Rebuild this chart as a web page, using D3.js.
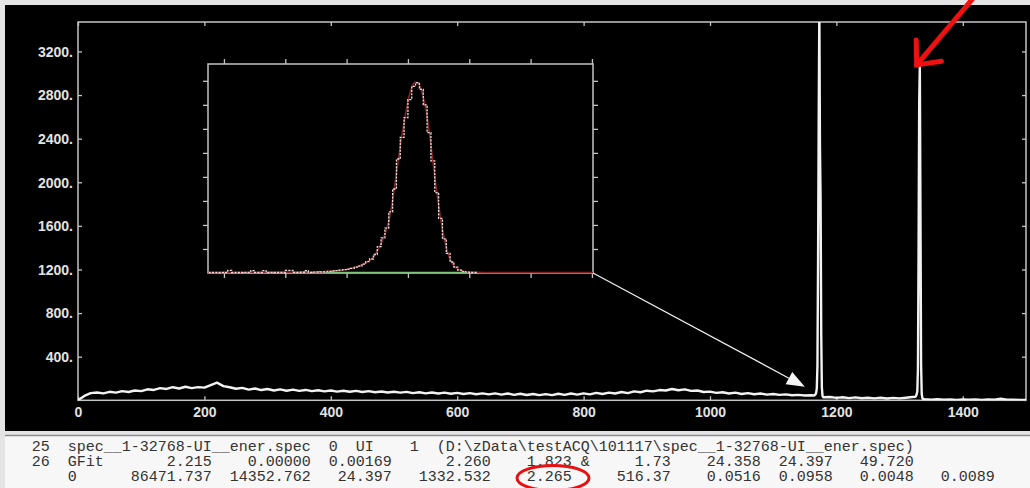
<!DOCTYPE html>
<html>
<head>
<meta charset="utf-8">
<script src="https://cdn.jsdelivr.net/npm/d3@7"></script>
<style>
  html, body { margin: 0; padding: 0; background: #e4e4e4; }
  svg { display: block; }
  .info { font-family: "Liberation Mono", monospace; font-size: 15px; fill: #333; white-space: pre; }
  .lbl { font-family: "Liberation Sans", Arial, sans-serif; font-weight: bold; font-size: 14px; fill: #e2e2e2; }
</style>
</head>
<body>
<svg id="chart" width="1030" height="488"></svg>
<script>
// ---- data ----
const xTickValues = [0, 200, 400, 600, 800, 1000, 1200, 1400];
const yTickValues = [400, 800, 1200, 1600, 2000, 2400, 2800, 3200];

// continuum, every 10 channels from 0 to 1160
const lowChannels = d3.range(0, 1170, 10);
const lowCounts = [
  0, 40, 66, 72, 63, 78, 70, 84, 76, 90,
  84, 101, 95, 112, 104, 120, 108, 124, 112, 121,
  116, 140, 162, 130, 120, 106, 114, 98, 108, 94,
  104, 90, 100, 88, 98, 86, 95, 84, 92, 82,
  90, 80, 88, 78, 86, 76, 84, 74, 81, 72,
  78, 70, 77, 66, 74, 64, 72, 62, 70, 60,
  68, 58, 66, 56, 64, 54, 63, 52, 62, 50,
  60, 49, 58, 48, 57, 47, 60, 50, 62, 52,
  64, 54, 68, 58, 70, 62, 76, 66, 82, 74,
  88, 82, 94, 90, 104, 92, 100, 86, 90, 76,
  80, 68, 74, 62, 70, 58, 66, 56, 62, 52,
  58, 50, 54, 46, 50, 44, 46
];
// 1173 keV peak, single channels
const peak1Channels = d3.range(1165, 1181);
const peak1Counts = [44, 48, 55, 70, 110, 320, 1290, 2570, 3600, 2320, 1840, 600, 120, 40, 30, 28];
// between peaks
const midChannels = d3.range(1190, 1330, 10);
const midCounts = [30, 22, 28, 20, 27, 19, 24, 18, 23, 17, 22, 18, 24, 30];
// 1332 keV peak, single channels
const peak2Channels = d3.range(1325, 1338);
const peak2Counts = [32, 40, 55, 80, 280, 1350, 2720, 3076, 1745, 330, 60, 20, 12];
// tail
const highChannels = d3.range(1340, 1501, 10);
const highCounts = [10, 6, 9, 5, 8, 4, 7, 5, 8, 4, 7, 5, 14, 5, 6, 3, 4];

// inset: fine bins of 0.25 keV starting at 1319.0 keV
const insetBinStart = 1319.0;
const insetBinWidth = 0.25;
const insetCounts = [
  0, 2, 0, 3, 0, 34, 0, 2, 0, 3,
  0, 32, 2, 0, 30, 0, 3, 0, 2, 0,
  36, 34, 2, 0, 4, 30, 3, 6, 8, 10,
  12, 18, 25, 32, 40, 48, 57, 70, 88, 105,
  140, 180, 225, 300, 430, 575, 740, 1010, 1390, 1890,
  2250, 2580, 2880, 3100, 3160, 3050, 2790, 2330, 1860, 1330,
  900, 560, 320, 175, 90, 40, 15, 5, 0, 0
];
// fitted curve (energy, counts)
const fitEnergy = [1318.96, 1326, 1327, 1328, 1329, 1329.75, 1330.25, 1330.75, 1331, 1331.25, 1331.5, 1331.75,
  1332, 1332.25, 1332.5, 1332.75, 1333, 1333.25, 1333.5, 1333.75, 1334, 1334.25, 1334.5, 1334.75,
  1335, 1335.5, 1336, 1337, 1344.07];
const fitCounts = [0, 10, 25, 55, 130, 260, 480, 850, 1200, 1650, 2100, 2500,
  2850, 3080, 3170, 3120, 2920, 2600, 2120, 1600, 1120, 720, 420, 220,
  110, 30, 8, 0, 0];
const bgRange = [1326.7, 1335.8];
const insetXTicks = [1320, 1324, 1328, 1332, 1336, 1340, 1344];
const insetYTicks = [400, 800, 1200, 1600, 2000, 2400, 2800, 3200];

// GFit output lines
const infoLines = [
  "  25  spec__1-32768-UI__ener.spec  0  UI    1  (D:\\zData\\testACQ\\101117\\spec__1-32768-UI__ener.spec)",
  "  26  GFit       2.215    0.00000  0.00169      2.260    1.823 &     1.73    24.358  24.397   49.720",
  "      0      86471.737  14352.762   24.397   1332.532    2.265     516.37    0.0516  0.0958   0.0048   0.0089"
];

// ---- drawing ----
const svg = d3.select("#chart");
const W = 1030, H = 488;

// window background pieces
svg.append("rect").attr("x", 0).attr("y", 0).attr("width", W).attr("height", H).attr("fill", "#e4e4e4");
svg.append("rect").attr("x", 5).attr("y", 5).attr("width", W - 5).attr("height", 426).attr("fill", "#000");
svg.append("rect").attr("x", 5).attr("y", 435).attr("width", W - 5).attr("height", H - 435).attr("fill", "#f7f7f7");
svg.append("line").attr("x1", 5).attr("x2", W).attr("y1", 435.5).attr("y2", 435.5)
  .attr("stroke", "#8c8c8c").attr("stroke-width", 1.5);

// main scales
const x = d3.scaleLinear().domain([0, 1500]).range([78, 1026]);
const y = d3.scaleLinear().domain([0, 3470]).range([400.3, 22]);

svg.append("clipPath").attr("id", "mainClip")
  .append("rect").attr("x", 78).attr("y", 22).attr("width", 948).attr("height", 378.3);

const frameColor = "#c4c4c4";

// axes (ticks pointing inside)
const gx = svg.append("g").attr("transform", "translate(0,400.3)")
  .call(d3.axisBottom(x).tickValues(xTickValues).tickSize(-4).tickPadding(7).tickFormat(d3.format("d")));
const gxt = svg.append("g").attr("transform", "translate(0,22)")
  .call(d3.axisTop(x).tickValues(xTickValues).tickSize(-4).tickFormat(""));
const gy = svg.append("g").attr("transform", "translate(78,0)")
  .call(d3.axisLeft(y).tickValues(yTickValues).tickSize(-4).tickPadding(5).tickFormat(d => d + "."));
const gyr = svg.append("g").attr("transform", "translate(1026,0)")
  .call(d3.axisRight(y).tickValues(yTickValues).tickSize(-4).tickFormat(""));

[gx, gxt, gy, gyr].forEach(g => {
  g.select(".domain").remove();
  g.selectAll(".tick line").attr("stroke", frameColor).attr("stroke-width", 1.3);
  g.selectAll(".tick text").attr("class", "lbl").attr("font-family", null).attr("font-size", null).attr("fill", null);
});
gy.selectAll(".tick text").attr("dy", "0.35em");

svg.append("rect").attr("x", 78).attr("y", 22).attr("width", 948).attr("height", 378.3)
  .attr("fill", "none").attr("stroke", frameColor).attr("stroke-width", 1.5);

// main spectrum
const spectrum = [];
lowChannels.forEach((c, i) => spectrum.push([c, lowCounts[i]]));
peak1Channels.forEach((c, i) => spectrum.push([c, peak1Counts[i]]));
midChannels.forEach((c, i) => spectrum.push([c, midCounts[i]]));
peak2Channels.forEach((c, i) => spectrum.push([c, peak2Counts[i]]));
highChannels.forEach((c, i) => spectrum.push([c, highCounts[i]]));

const specLine = d3.line().x(d => x(d[0])).y(d => y(d[1]));
svg.append("path")
  .datum(spectrum)
  .attr("clip-path", "url(#mainClip)")
  .attr("d", specLine)
  .attr("fill", "none")
  .attr("stroke", "#f2f2f2")
  .attr("stroke-width", 2.4)
  .attr("stroke-linejoin", "round");

// inset
const ix = d3.scaleLinear().domain([1318.96, 1344.07]).range([208, 593]);
const iy = d3.scaleLinear().domain([0, 3480]).range([273, 64]);

svg.append("rect").attr("x", 208).attr("y", 64).attr("width", 385).attr("height", 209)
  .attr("fill", "#000").attr("stroke", frameColor).attr("stroke-width", 1.5);

const insetAxes = [
  svg.append("g").attr("transform", "translate(0,64)").call(d3.axisTop(ix).tickValues(insetXTicks).tickSize(5).tickFormat("")),
  svg.append("g").attr("transform", "translate(0,273)").call(d3.axisBottom(ix).tickValues(insetXTicks).tickSize(5).tickFormat("")),
  svg.append("g").attr("transform", "translate(208,0)").call(d3.axisLeft(iy).tickValues(insetYTicks).tickSize(5).tickFormat("")),
  svg.append("g").attr("transform", "translate(593,0)").call(d3.axisRight(iy).tickValues(insetYTicks).tickSize(5).tickFormat(""))
];
insetAxes.forEach(g => {
  g.select(".domain").remove();
  g.selectAll(".tick line").attr("stroke", frameColor).attr("stroke-width", 1.3);
});

// fit curve
const fitData = fitEnergy.map((e, i) => [e, fitCounts[i]]);
svg.append("path")
  .datum(fitData)
  .attr("d", d3.line().x(d => ix(d[0])).y(d => iy(d[1]) - 0.5).curve(d3.curveMonotoneX))
  .attr("fill", "none")
  .attr("stroke", "#7e2424")
  .attr("stroke-width", 1.6);

// histogram data
const insetData = insetCounts.map((c, i) => [insetBinStart + i * insetBinWidth, c]);
insetData.push([insetBinStart + insetCounts.length * insetBinWidth, 0]);
svg.append("path")
  .datum(insetData)
  .attr("d", d3.line().x(d => ix(d[0])).y(d => iy(d[1]) - 0.5).curve(d3.curveStepAfter))
  .attr("fill", "none")
  .attr("stroke", "#f3dcdc")
  .attr("stroke-width", 1.3)
  .attr("stroke-dasharray", "2.2,1.2");

// background line of the fit
svg.append("line")
  .attr("x1", ix(bgRange[0])).attr("x2", ix(bgRange[1]))
  .attr("y1", iy(0) - 0.5).attr("y2", iy(0) - 0.5)
  .attr("stroke", "#7fc27f").attr("stroke-width", 1.6);

// white arrow from inset to the spectrum
const tip = [x(1150), y(125)];
const tail = [593, 273];
const ang = Math.atan2(tip[1] - tail[1], tip[0] - tail[0]);
const headLen = 18, headHalf = 7;
const base = [tip[0] - headLen * Math.cos(ang), tip[1] - headLen * Math.sin(ang)];
svg.append("line")
  .attr("x1", tail[0]).attr("y1", tail[1]).attr("x2", base[0]).attr("y2", base[1])
  .attr("stroke", "#f0f0f0").attr("stroke-width", 1.2);
svg.append("path")
  .attr("d", `M${tip[0]},${tip[1]}L${base[0] - headHalf * Math.sin(ang)},${base[1] + headHalf * Math.cos(ang)}L${base[0] + headHalf * Math.sin(ang)},${base[1] - headHalf * Math.cos(ang)}Z`)
  .attr("fill", "#f4f4f4");

// red arrow pointing at the 1332 peak
const rTip = [x(1327), y(3076)];
const rTail = [rTip[0] + 60, -6];
const rAng = Math.atan2(rTail[1] - rTip[1], rTail[0] - rTip[0]);
const armLen = 25, spread = 0.72;
const redG = svg.append("g").attr("stroke", "#ee1111").attr("stroke-width", 5)
  .attr("stroke-linecap", "round").attr("fill", "none");
redG.append("line").attr("x1", rTip[0]).attr("y1", rTip[1]).attr("x2", rTail[0]).attr("y2", rTail[1]);
redG.append("path")
  .attr("stroke-linejoin", "miter")
  .attr("d", `M${rTip[0] + armLen * Math.cos(rAng - spread)},${rTip[1] + armLen * Math.sin(rAng - spread)}` +
    `L${rTip[0]},${rTip[1]}` +
    `L${rTip[0] + armLen * Math.cos(rAng + spread)},${rTip[1] + armLen * Math.sin(rAng + spread)}`);

// info text lines
svg.append("g").selectAll("text")
  .data(infoLines)
  .enter()
  .append("text")
  .attr("class", "info")
  .attr("x", 13.7)
  .attr("y", (d, i) => 451 + i * 15)
  .text(d => d);

// red ellipse around the FWHM value
svg.append("ellipse")
  .attr("cx", 553).attr("cy", 478).attr("rx", 36).attr("ry", 12.5)
  .attr("fill", "none").attr("stroke", "#e81010").attr("stroke-width", 3);
</script>
</body>
</html>
